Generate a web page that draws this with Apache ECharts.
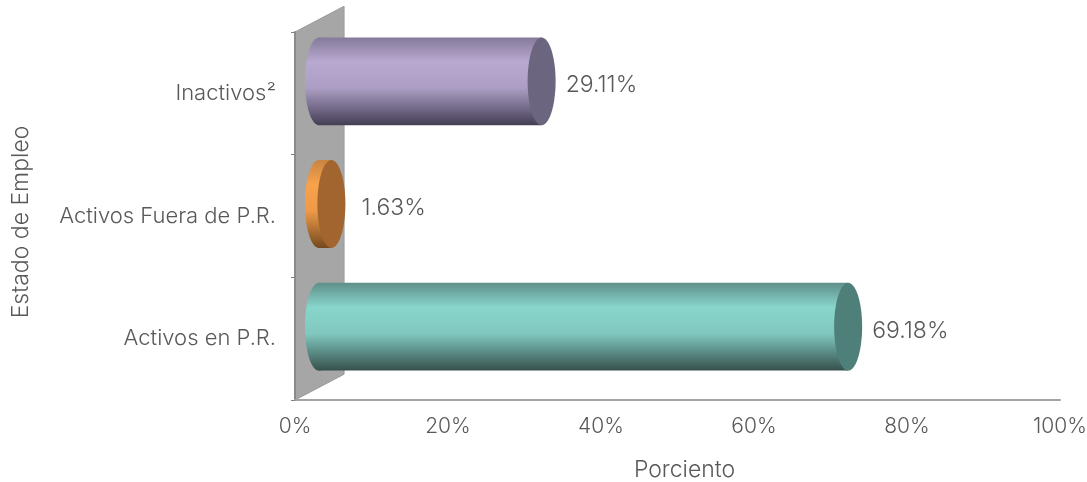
<!DOCTYPE html>
<html><head><meta charset="utf-8">
<style>html,body{margin:0;padding:0;background:#fff}#c{width:1087px;height:482px}</style>
<script src="https://cdn.jsdelivr.net/npm/echarts@6/dist/echarts.min.js"></script>
</head><body><div id="c"></div>
<script>
const categories = ['Activos en P.R.', 'Activos Fuera de P.R.', 'Inactivos²'];
const values = [69.18, 1.63, 29.11];
const xTicks = [0, 20, 40, 60, 80, 100];
const sideColors = [
  ['#5f8f89', '#88d5cc', '#80c8bf', '#36504c'],
  ['#c98442', '#f9a24c', '#ee9a48', '#74491e'],
  ['#857a99', '#b8a9d1', '#ab9dc3', '#443e55']
];
const capColors = ['#4f7f79', '#a3652f', '#6c6580'];
const FONT = 'Inter';
const chart = echarts.init(document.getElementById('c'));
function sideGrad(c){
  return new echarts.graphic.LinearGradient(0,0,0,1,[
    {offset:0,color:c[0]},{offset:0.28,color:c[1]},
    {offset:0.58,color:c[2]},{offset:1,color:c[3]}]);
}
chart.setOption({
  animation:false,
  backgroundColor:'#fff',
  grid:{left:295,right:27,top:32,bottom:82,containLabel:false,outerBoundsMode:'none'},
  xAxis:{type:'value',min:0,max:100,interval:20,z:5,
    axisLine:{show:true,lineStyle:{color:'#a3a3a3',width:2}},
    axisTick:{show:false},splitLine:{show:false},
    axisLabel:{color:'#595959',fontSize:21,fontFamily:FONT,fontWeight:300,margin:16,formatter:v=>v+'%',
      hideOverlap:false,showMinLabel:true,showMaxLabel:true},
    name:'Porciento',nameLocation:'middle',nameGap:59,
    nameTextStyle:{color:'#595959',fontSize:23,fontFamily:FONT,fontWeight:300,padding:[0,0,0,14]}},
  yAxis:{type:'category',data:categories,z:5,
    axisLine:{show:true,lineStyle:{color:'#8a8a8a',width:2}},
    axisTick:{show:true,length:4,lineStyle:{color:'#7f7f7f',width:1}},
    axisLabel:{color:'#595959',fontSize:22,fontFamily:FONT,fontWeight:300,margin:19,padding:[2,0,0,0]},
    name:'Estado de Empleo',nameLocation:'middle',nameGap:262,nameRotate:90,
    nameTextStyle:{color:'#595959',fontSize:23,fontFamily:FONT,fontWeight:300,padding:[0,12,0,0]}},
  series:[
    {type:'custom',silent:true,z:1,data:[[0,0]],clip:false,
     encode:{x:0,y:1},
     renderItem(p,api){
       const band=api.size([0,1])[1];
       const bottom=api.coord([0,0]); const x=bottom[0];
       const yb=bottom[1]+band/2; const yt=yb-band*categories.length;
       const dx=band*0.4, dy=band*0.21;
       return {type:'polygon',shape:{points:[[x,yb],[x,yt],[x+dx,yt-dy],[x+dx,yb-dy]]},
         style:{fill:'#a6a6a6',stroke:'#9a9a9a',lineWidth:1}};
     }},
    {type:'custom',silent:true,z:6,clip:false,
     data:values.map((v,i)=>[v,i]),encode:{x:0,y:1},
     renderItem(p,api){
       const i=p.dataIndex, v=api.value(0);
       const band=api.size([0,1])[1];
       const h=band*0.716, ry=h/2, rx=14;
       const ox=band*0.195, oy=-band*0.098;
       const a=api.coord([0,i]), b=api.coord([v,i]);
       const x0=a[0]+ox, x1=b[0]+ox, cy=a[1]+oy;
       const g=sideGrad(sideColors[i]);
       return {type:'group',children:[
         {type:'ellipse',shape:{cx:x0,cy:cy,rx:rx,ry:ry},style:{fill:g}},
         {type:'rect',shape:{x:x0,y:cy-ry,width:x1-x0,height:h},style:{fill:g}},
         {type:'ellipse',shape:{cx:x1,cy:cy,rx:rx,ry:ry},style:{fill:capColors[i]}},
         {type:'text',style:{x:b[0]+48+(v<5?6:0),y:cy+4,text:v.toFixed(2)+'%',fill:'#595959',
           font:'300 23px '+FONT,textAlign:'left',textVerticalAlign:'middle'}}
       ]};
     }}
  ]
});
</script></body></html>
